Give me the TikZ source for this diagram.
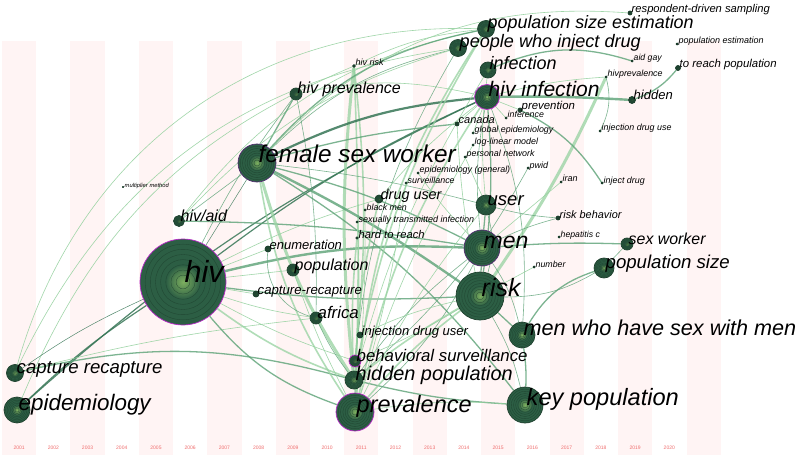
\documentclass[tikz,border=0pt]{standalone}
\usepackage{fontspec}
\setmainfont{Liberation Sans}
\definecolor{kwgreen}{RGB}{44,94,68}
\definecolor{kwdark}{RGB}{28,62,44}
\definecolor{kwlight}{RGB}{125,175,95}
\definecolor{kwmag}{RGB}{185,40,200}
\definecolor{kwpur}{RGB}{80,40,110}
\definecolor{stripecol}{RGB}{255,244,244}
\definecolor{yearcol}{RGB}{240,110,110}
\definecolor{edk}{RGB}{55,118,86}
\definecolor{emd}{RGB}{92,162,118}
\definecolor{elt}{RGB}{150,210,160}
\pgfdeclarelayer{stripes}
\pgfdeclarelayer{edges}
\pgfdeclarelayer{front}
\pgfsetlayers{stripes,edges,main,front}
\tikzset{
  kwcirc/.style={circle, inner sep=0pt, fill=kwgreen, line width=0.7pt},
  kwring/.style={draw=kwdark, line width=0.35pt, opacity=0.75},
  kwlbl/.style={anchor=base west, inner sep=0pt, text=black},
  yearlbl/.style={font=\fontsize{5}{5}\selectfont, text=yearcol, inner sep=0pt},
  stripebox/.style={fill=stripecol},
  dkA/.style={draw=edk, line width=2.2pt, opacity=0.85},
  dkB/.style={draw=edk, line width=1.2pt, opacity=0.85},
  dkC/.style={draw=edk, line width=0.5pt, opacity=0.85},
  mdA/.style={draw=emd, line width=2.4pt, opacity=0.8},
  mdB/.style={draw=emd, line width=1.3pt, opacity=0.8},
  mdC/.style={draw=emd, line width=0.6pt, opacity=0.8},
  ltA/.style={draw=elt, line width=3pt, opacity=0.75},
  ltB/.style={draw=elt, line width=1.6pt, opacity=0.75},
  ltC/.style={draw=elt, line width=0.6pt, opacity=0.9},
}
\newcommand\kw[7]{%
  \node[kwcirc, minimum size=2*#4pt, draw=#6] (#1) at (#2,#3) {};
  \shade[inner color=kwlight, outer color=kwgreen] (#1.center) circle[radius={0.4*#4pt}];
  \foreach \f in {0.88,0.76,0.64,0.52,0.4,0.28,0.16}{\draw[kwring] (#1.center) circle[radius={\f*#4pt}];}
  \begin{pgfonlayer}{front}
    \node[kwlbl, font=\fontsize{#5}{#5}\selectfont\itshape] (#1-l) at ([xshift=1.5pt]#1.center) {#7};
  \end{pgfonlayer}}
\newcommand\E[4]{\draw[#1] (#2) to[bend left=#4] (#3);}
\begin{document}
\begin{tikzpicture}[x=1pt,y=-1pt]
\useasboundingbox (0,0) rectangle (797,457);
\begin{pgfonlayer}{stripes}
\fill[white] (0,0) rectangle (797,457);
\foreach \i in {0,...,10} {\fill[stripebox] ({2+68.45*\i},41) rectangle ({36.2+68.45*\i},455);}
\foreach \y [count=\k from 0] in {2001,...,2020} {\node[yearlbl] (yr\y) at ({19.1+34.22*\k},448) {\y};}
\end{pgfonlayer}
% nodes
\kw{hiv}{183}{282}{43}{30.5}{kwmag}{hiv}
\kw{fsw}{257}{163}{19}{24.3}{kwpur}{female sex worker}
\kw{hivprev}{296}{94}{6}{16}{kwdark}{hiv prevalence}
\kw{hivrisk}{354}{66}{1.3}{9}{kwdark}{hiv risk}
\kw{multmeth}{123}{187}{0.5}{5.8}{kwdark}{multiplier method}
\kw{hivaid}{179}{221}{5.5}{16}{kwdark}{hiv/aid}
\kw{druguser}{379}{199}{4}{14.4}{kwdark}{drug user}
\kw{blackmen}{365}{210}{1}{8.8}{kwdark}{black men}
\kw{sti}{357}{222}{1}{9}{kwdark}{sexually transmitted infection}
\kw{hardreach}{357}{238}{1.2}{11.2}{kwdark}{hard to reach}
\kw{pse}{486}{29}{8.5}{17.9}{kwdark}{population size estimation}
\kw{rds}{630}{13}{2}{11.2}{kwdark}{respondent-driven sampling}
\kw{pwidrug}{458}{48}{8.5}{18.1}{kwdark}{people who inject drug}
\kw{popest}{677}{44}{1}{9}{kwdark}{population estimation}
\kw{infection}{488}{70}{8}{18}{kwdark}{infection}
\kw{aidgay}{632}{61}{1}{8.7}{kwdark}{aid gay}
\kw{toreach}{678}{68}{2.5}{11.4}{kwdark}{to reach population}
\kw{hivprevb}{606}{77}{1}{8.9}{kwdark}{hivprevalence}
\kw{hivinf}{487}{97}{12.5}{21}{kwmag}{hiv infection}
\kw{hidden}{632}{100}{3.5}{13}{kwdark}{hidden}
\kw{prevention}{520}{110}{2}{11.4}{kwdark}{prevention}
\kw{inference}{506}{118}{1}{8.8}{kwdark}{inference}
\kw{canada}{457}{124}{2}{11}{kwdark}{canada}
\kw{globalepi}{473}{133}{1}{8.9}{kwdark}{global epidemiology}
\kw{loglin}{473}{145}{1}{8.9}{kwdark}{log-linear model}
\kw{persnet}{465}{157}{1}{8.9}{kwdark}{personal network}
\kw{pwid}{528}{168}{1}{9}{kwdark}{pwid}
\kw{idu}{600}{131}{1}{8.9}{kwdark}{injection drug use}
\kw{epigen}{418}{173}{1}{8.9}{kwdark}{epidemiology (general)}
\kw{surv}{406}{183}{1}{8.9}{kwdark}{surveillance}
\kw{iran}{561}{182}{1}{9}{kwdark}{iran}
\kw{injdrug}{602}{183}{1}{8.9}{kwdark}{inject drug}
\kw{user}{486}{205}{10}{18.5}{kwdark}{user}
\kw{riskbeh}{558}{218}{2}{10.9}{kwdark}{risk behavior}
\kw{hepc}{559}{237}{1}{8.7}{kwdark}{hepatitis c}
\kw{men}{482}{248}{18}{23}{kwpur}{men}
\kw{number}{534}{267}{1}{8.8}{kwdark}{number}
\kw{sexworker}{627}{244}{6}{15.9}{kwdark}{sex worker}
\kw{popsize}{604}{268}{10}{18.6}{kwdark}{population size}
\kw{risk}{480}{296}{24}{25}{kwdark}{risk}
\kw{msm}{522}{335}{13}{21.6}{kwdark}{men who have sex with men}
\kw{keypop}{525}{405}{18}{23.6}{kwdark}{key population}
\kw{enum}{268}{249}{3}{13}{kwdark}{enumeration}
\kw{population}{293}{270}{6}{16}{kwdark}{population}
\kw{caprecapb}{256}{294}{3}{13.2}{kwdark}{capture-recapture}
\kw{africa}{316}{318}{6}{16.8}{kwdark}{africa}
\kw{idub}{360}{335}{3}{13}{kwdark}{injection drug user}
\kw{behsurv}{355}{361}{6}{16.8}{kwmag}{behavioral surveillance}
\kw{hiddenpop}{354}{380}{9}{19.9}{kwdark}{hidden population}
\kw{prevalence}{355}{412}{19}{23.5}{kwmag}{prevalence}
\kw{caprecap}{15}{373}{8.5}{18.6}{kwdark}{capture recapture}
\kw{epidemiology}{17}{410}{13}{22.4}{kwdark}{epidemiology}
% edges
\begin{pgfonlayer}{edges}
\E{ltC}{caprecap}{pse}{38}
\E{ltC}{epidemiology}{hivrisk}{22}
\E{ltC}{caprecap}{pwidrug}{28}
\E{dkB}{epidemiology}{hivinf}{8}
\E{dkB}{epidemiology}{hiv}{5}
\E{dkC}{caprecap}{hiv}{5}
\E{mdB}{caprecap}{hiddenpop}{14}
\E{ltC}{caprecap}{africa}{4}
\E{mdB}{hiv}{prevalence}{-15}
\E{ltC}{hiv}{behsurv}{-5}
\E{ltC}{hiv}{enum}{0}
\E{ltC}{hiv}{population}{0}
\E{ltC}{hiv}{caprecapb}{0}
\E{ltC}{hiv}{africa}{-5}
\E{mdA}{hiv}{men}{8}
\E{dkB}{hiv}{hivinf}{6}
\E{mdB}{hiv}{risk}{-5}
\E{ltB}{hiv}{hiddenpop}{-8}
\E{mdC}{hiv}{hivprev}{5}
\E{dkC}{hiv}{fsw}{0}
\E{ltC}{hiv}{druguser}{5}
\E{mdB}{hivaid}{men}{4}
\E{mdC}{hivaid}{fsw}{0}
\E{ltC}{hivaid}{pse}{20}
\E{mdB}{hivprev}{fsw}{0}
\E{mdC}{hivprev}{africa}{6}
\E{ltC}{hivprev}{hivinf}{12}
\E{ltA}{hivrisk}{hiddenpop}{-6}
\E{ltB}{hivrisk}{behsurv}{6}
\E{ltB}{hivrisk}{prevalence}{2}
\E{ltC}{hivrisk}{pse}{10}
\E{dkA}{fsw}{hivinf}{10}
\E{mdB}{fsw}{canada}{5}
\E{mdB}{fsw}{men}{6}
\E{mdA}{fsw}{risk}{4}
\E{mdC}{fsw}{user}{4}
\E{mdB}{fsw}{keypop}{10}
\E{ltB}{fsw}{prevalence}{-12}
\E{ltA}{fsw}{hiddenpop}{-8}
\E{mdC}{fsw}{pwidrug}{15}
\E{ltC}{fsw}{rds}{25}
\E{mdB}{fsw}{pse}{18}
\E{ltB}{pse}{hiddenpop}{-10}
\E{ltB}{pse}{prevalence}{-14}
\E{mdC}{pwidrug}{behsurv}{-12}
\E{ltC}{pwidrug}{hivaid}{-15}
\E{mdB}{infection}{aidgay}{20}
\E{ltC}{infection}{user}{-6}
\E{ltC}{infection}{hiddenpop}{-8}
\E{mdA}{hivinf}{hidden}{2}
\E{ltC}{hivinf}{hivprevb}{5}
\E{ltC}{hivinf}{prevention}{0}
\E{ltC}{hivinf}{inference}{0}
\E{ltC}{hivinf}{canada}{0}
\E{ltC}{hivinf}{globalepi}{0}
\E{mdB}{hivinf}{risk}{6}
\E{ltB}{hivinf}{prevalence}{-10}
\E{mdC}{hivinf}{men}{-8}
\E{mdC}{hivinf}{msm}{12}
\E{mdB}{hidden}{toreach}{-15}
\E{ltA}{hivprevb}{risk}{5}
\E{mdC}{hivprevb}{idu}{20}
\E{mdB}{prevention}{injdrug}{15}
\E{mdC}{pwid}{hiddenpop}{10}
\E{ltC}{iran}{men}{0}
\E{mdC}{riskbeh}{user}{5}
\E{mdC}{riskbeh}{men}{-5}
\E{mdB}{men}{sexworker}{3}
\E{mdB}{user}{men}{0}
\E{mdC}{user}{risk}{15}
\E{mdB}{men}{risk}{0}
\E{mdB}{risk}{msm}{0}
\E{mdC}{men}{msm}{10}
\E{mdB}{msm}{keypop}{5}
\E{mdB}{msm}{popsize}{20}
\E{mdC}{risk}{popsize}{-15}
\E{mdC}{popsize}{sexworker}{0}
\E{mdC}{risk}{keypop}{8}
\E{mdB}{hiddenpop}{keypop}{-5}
\E{ltC}{prevalence}{keypop}{6}
\E{ltB}{prevalence}{risk}{6}
\E{mdC}{prevalence}{men}{-10}
\E{ltC}{prevalence}{user}{6}
\E{mdC}{hiddenpop}{men}{8}
\E{ltB}{hiddenpop}{risk}{4}
\E{ltC}{behsurv}{risk}{-4}
\E{ltB}{druguser}{prevalence}{-6}
\E{ltB}{hardreach}{hiddenpop}{-4}
\E{ltC}{sti}{behsurv}{4}
\E{ltC}{blackmen}{prevalence}{3}
\E{mdC}{enum}{africa}{-40}
\E{ltC}{population}{prevalence}{-4}
\E{mdC}{africa}{hiddenpop}{-6}
\E{ltC}{idub}{risk}{6}
\E{ltC}{epigen}{men}{-4}
\E{ltC}{surv}{prevalence}{4}
\E{ltC}{number}{risk}{0}
\E{ltC}{canada}{risk}{-4}
\E{ltC}{druguser}{hivinf}{6}
\E{ltC}{persnet}{user}{0}
\E{ltC}{loglin}{prevalence}{-6}
\end{pgfonlayer}
\end{tikzpicture}
\end{document}
